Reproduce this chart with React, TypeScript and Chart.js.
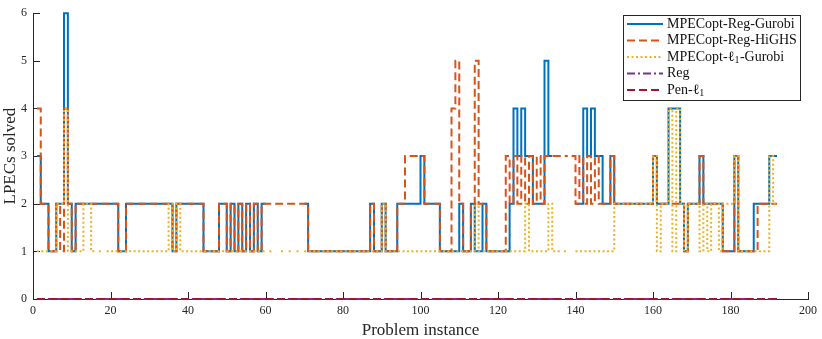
import React, { useEffect, useRef } from 'react';
import { Chart, registerables } from 'chart.js';

Chart.register(...registerables);

const seriesNames = ['MPECopt-Reg-Gurobi', 'MPECopt-Reg-HiGHS', 'MPECopt-ℓ₁-Gurobi', 'Reg', 'Pen-ℓ₁'];
const xTicks = [0, 20, 40, 60, 80, 100, 120, 140, 160, 180, 200];
const yTicks = [0, 1, 2, 3, 4, 5, 6];
const _ = null;

// LPECs solved per problem instance (instances 1..192)
const regGurobi = [
  3, 2, 2, 1, 1, 2, 2, 6, 2, 1,
  2, 2, 2, 2, 2, 2, 2, 2, 2, 2,
  2, 1, 1, 2, 2, 2, 2, 2, 2, 2,
  2, 2, 2, 2, 2, 1, 2, 2, 2, 2,
  2, 2, 2, 1, 1, 1, 1, 2, 2, 1,
  2, 1, 2, 1, 2, 1, 2, 1, 2, _,
  _, _, _, _, _, _, _, _, _, 2,
  1, 1, 1, 1, 1, 1, 1, 1, 1, 1,
  1, 1, 1, 1, 1, 1, 2, 1, 1, 2,
  1, 1, 1, 2, 2, 2, 2, 2, 2, 3,
  2, 2, 2, 2, 1, 1, 1, 1, 1, 2,
  1, 1, 2, 1, 1, 2, 1, 1, 1, 1,
  1, 1, 2, 4, 3, 4, 3, 3, 2, 2,
  2, 5, 3, _, _, _, _, _, _, 2,
  2, 4, 3, 4, 3, 3, 2, 2, 3, 2,
  2, 2, 2, 2, 2, 2, 2, 2, 2, 3,
  2, 2, 2, 4, 4, 4, 2, 1, 2, 2,
  2, 3, 2, 2, 2, 2, 2, 1, 1, 1,
  3, 1, 1, 1, 1, 2, 2, 2, 2, 3,
  3, 3,
];

const regHighs = [
  4, 2, 2, 1, 1, 2, 1, 4, 2, 1,
  2, 2, 2, 2, 2, 2, 2, 2, 2, 2,
  2, 1, 1, 2, 2, 2, 2, 2, 2, 2,
  2, 2, 2, 2, 2, 1, 2, 2, 2, 2,
  2, 2, 2, 1, 1, 1, 1, 2, 2, 1,
  2, 1, 2, 1, 2, 1, 2, 1, 2, 2,
  2, 2, 2, 2, 2, 2, 2, 2, 2, 2,
  1, 1, 1, 1, 1, 1, 1, 1, 1, 1,
  1, 1, 1, 1, 1, 1, 2, 1, 1, 2,
  1, 1, 1, 2, 2, 3, 3, 3, 3, 3,
  2, 2, 2, 2, 1, 1, 1, 4, 5, 2,
  1, 1, 2, 5, 2, 2, 1, 1, 1, 1,
  1, 3, 2, 3, 2, 3, 2, 3, 2, 3,
  2, 3, 3, 3, 3, 3, 3, _, 3, 2,
  3, 2, 3, 2, 3, 2, 2, 2, 3, 2,
  2, 2, 2, 2, 2, 2, 2, 2, 2, 3,
  2, 2, 2, 2, 2, 2, 2, 1, 2, 2,
  2, 3, 2, 2, 2, 2, 2, 1, 1, 1,
  3, 1, 1, 1, 1, 1, 2, 2, 2, 2,
  2, 2,
];

const l1Gurobi = [
  1, 1, 1, 1, 1, 2, 2, 4, 1, 1,
  1, 1, 2, 2, 1, _, 1, _, 1, 1,
  1, 1, 1, 1, 1, 1, 1, 1, 1, 1,
  1, 1, 1, 1, 2, 1, 2, 1, 1, 1,
  1, 1, 1, 1, 1, 1, 1, 1, 1, 1,
  1, 1, 1, 1, 1, 1, 1, 1, 1, _,
  1, _, _, 1, _, 1, _, 1, _, 1,
  1, 1, 1, 1, 1, 1, 1, 1, 1, 1,
  1, 1, 1, 1, 1, 1, 1, 1, 1, 2,
  1, 1, 1, 1, 1, 1, 1, 1, 1, 1,
  1, 1, 1, 1, 1, 1, 1, 1, 1, 1,
  1, 1, 1, 2, 1, 1, 1, 1, 1, 1,
  1, 1, 1, 1, 1, 1, 2, 1, 1, 1,
  1, 1, 2, 1, 1, _, 1, _, _, 1,
  1, 1, 1, 1, 1, 1, 1, 1, 1, 2,
  2, 2, 2, 2, 2, 2, 2, 2, 2, 3,
  1, 2, 2, 4, 1, 4, 2, 1, 2, 2,
  2, 1, 2, 1, 2, 2, 1, 2, 2, 2,
  3, 1, 1, 1, 1, 1, 1, 1, 1, 3,
  2, 2,
];

const regOnly = [
  0, 0, 0, 0, 0, 0, 0, 0, 0, 0, 0, 0, 0, 0, 0, 0, 0, 0, 0, 0,
  0, 0, 0, 0, 0, 0, 0, 0, 0, 0, 0, 0, 0, 0, 0, 0, 0, 0, 0, 0,
  0, 0, 0, 0, 0, 0, 0, 0, 0, 0, 0, 0, 0, 0, 0, 0, 0, 0, 0, 0,
  0, 0, 0, 0, 0, 0, 0, 0, 0, 0, 0, 0, 0, 0, 0, 0, 0, 0, 0, 0,
  0, 0, 0, 0, 0, 0, 0, 0, 0, 0, 0, 0, 0, 0, 0, 0, 0, 0, 0, 0,
  0, 0, 0, 0, 0, 0, 0, 0, 0, 0, 0, 0, 0, 0, 0, 0, 0, 0, 0, 0,
  0, 0, 0, 0, 0, 0, 0, 0, 0, 0, 0, 0, 0, 0, 0, 0, 0, 0, 0, 0,
  0, 0, 0, 0, 0, 0, 0, 0, 0, 0, 0, 0, 0, 0, 0, 0, 0, 0, 0, 0,
  0, 0, 0, 0, 0, 0, 0, 0, 0, 0, 0, 0, 0, 0, 0, 0, 0, 0, 0, 0,
  0, 0, 0, 0, 0, 0, 0, 0, 0, 0, 0, 0,
];

const penL1 = [
  0, 0, 0, 0, 0, 0, 0, 0, 0, 0, 0, 0, 0, 0, 0, 0, 0, 0, 0, 0,
  0, 0, 0, 0, 0, 0, 0, 0, 0, 0, 0, 0, 0, 0, 0, 0, 0, 0, 0, 0,
  0, 0, 0, 0, 0, 0, 0, 0, 0, 0, 0, 0, 0, 0, 0, 0, 0, 0, 0, 0,
  0, 0, 0, 0, 0, 0, 0, 0, 0, 0, 0, 0, 0, 0, 0, 0, 0, 0, 0, 0,
  0, 0, 0, 0, 0, 0, 0, 0, 0, 0, 0, 0, 0, 0, 0, 0, 0, 0, 0, 0,
  0, 0, 0, 0, 0, 0, 0, 0, 0, 0, 0, 0, 0, 0, 0, 0, 0, 0, 0, 0,
  0, 0, 0, 0, 0, 0, 0, 0, 0, 0, 0, 0, 0, 0, 0, 0, 0, 0, 0, 0,
  0, 0, 0, 0, 0, 0, 0, 0, 0, 0, 0, 0, 0, 0, 0, 0, 0, 0, 0, 0,
  0, 0, 0, 0, 0, 0, 0, 0, 0, 0, 0, 0, 0, 0, 0, 0, 0, 0, 0, 0,
  0, 0, 0, 0, 0, 0, 0, 0, 0, 0, 0, 0,
];

const FONT = "'Liberation Serif', 'Times New Roman', serif";
const AXIS = '#262626';

// MATLAB-style stairs: value i holds from x=i to x=i+1, NaN breaks the line
function stairs(vals: (number | null)[]) {
  const pts: { x: number; y: number | null }[] = [];
  vals.forEach((v, k) => {
    const x = k + 1;
    if (v === null) {
      pts.push({ x, y: null });
      return;
    }
    pts.push({ x, y: v });
    if (k < vals.length - 1) pts.push({ x: x + 1, y: v });
  });
  return pts;
}

const inwardTicks = {
  id: 'inwardTicks',
  beforeDatasetsDraw(chart: any) {
    const { ctx, chartArea, scales } = chart;
    const x = scales.x;
    const y = scales.y;
    ctx.save();
    ctx.strokeStyle = AXIS;
    ctx.lineWidth = 1;
    ctx.beginPath();
    xTicks.forEach((v) => {
      const px = Math.round(x.getPixelForValue(v)) + 0.5;
      ctx.moveTo(px, chartArea.bottom);
      ctx.lineTo(px, chartArea.bottom - 7);
    });
    yTicks.forEach((v) => {
      const py = Math.round(y.getPixelForValue(v)) + 0.5;
      ctx.moveTo(chartArea.left, py);
      ctx.lineTo(chartArea.left + 7, py);
    });
    ctx.stroke();
    ctx.restore();
  },
};

function drawLabel(ctx: CanvasRenderingContext2D, text: string, x: number, y: number) {
  const parts = text.split('ℓ₁');
  let cx = x;
  parts.forEach((p, i) => {
    ctx.font = `14px ${FONT}`;
    ctx.fillText(p, cx, y);
    cx += ctx.measureText(p).width;
    if (i < parts.length - 1) {
      ctx.fillText('ℓ', cx, y);
      cx += ctx.measureText('ℓ').width;
      ctx.font = `10px ${FONT}`;
      ctx.fillText('1', cx, y + 3.5);
      cx += ctx.measureText('1').width + 0.5;
    }
  });
}

const boxLegend = {
  id: 'boxLegend',
  afterDraw(chart: any) {
    const { ctx } = chart;
    const bx = 623.5, by = 15.5, bw = 177, bh = 85;
    ctx.save();
    ctx.fillStyle = '#ffffff';
    ctx.fillRect(bx, by, bw, bh);
    ctx.strokeStyle = AXIS;
    ctx.lineWidth = 1;
    ctx.setLineDash([]);
    ctx.strokeRect(bx, by, bw, bh);
    chart.data.datasets.forEach((ds: any, i: number) => {
      const yy = 24 + i * 16.5;
      ctx.strokeStyle = ds.borderColor;
      ctx.lineWidth = ds.borderWidth;
      ctx.setLineDash(ds.borderDash || []);
      ctx.beginPath();
      ctx.moveTo(627, yy);
      ctx.lineTo(663, yy);
      ctx.stroke();
      ctx.setLineDash([]);
      ctx.fillStyle = '#111111';
      ctx.textBaseline = 'middle';
      ctx.textAlign = 'left';
      drawLabel(ctx, ds.label, 667, yy);
    });
    ctx.restore();
  },
};

export default function App() {
  const ref = useRef<HTMLCanvasElement>(null);

  useEffect(() => {
    document.body.style.margin = '0';
    if (!ref.current) return;
    const common = {
      pointRadius: 0,
      borderWidth: 2,
      fill: false,
      tension: 0,
      clip: false as any,
      borderJoinStyle: 'miter' as const,
      borderCapStyle: 'butt' as const,
      spanGaps: false,
    };
    const chart = new Chart(ref.current, {
      type: 'line',
      data: {
        datasets: [
          { ...common, label: seriesNames[0], data: stairs(regGurobi), borderColor: '#0072BD', order: 5 },
          { ...common, label: seriesNames[1], data: stairs(regHighs), borderColor: '#D95319', borderDash: [8, 4], order: 4 },
          { ...common, label: seriesNames[2], data: stairs(l1Gurobi), borderColor: '#EDB120', borderDash: [2, 2.5], order: 3 },
          { ...common, label: seriesNames[3], data: stairs(regOnly), borderColor: '#7E2F8E', borderDash: [8, 3, 2, 3], order: 2 },
          { ...common, label: seriesNames[4], data: stairs(penL1), borderColor: '#A2142F', borderDash: [8, 4], order: 1 },
        ] as any,
      },
      options: {
        animation: false,
        responsive: false,
        events: [],
        layout: { padding: { top: 6, right: 13, left: 0, bottom: 0 } },
        plugins: { legend: { display: false }, tooltip: { enabled: false } },
        scales: {
          x: {
            type: 'linear',
            min: 0,
            max: 200,
            afterFit: (s: any) => { s.height = 40; },
            afterBuildTicks: (s: any) => { s.ticks = xTicks.map((v) => ({ value: v })); },
            grid: { display: false, drawTicks: false },
            border: { display: true, color: AXIS, width: 1 },
            ticks: { padding: 5, autoSkip: false, maxRotation: 0, color: AXIS, font: { family: FONT, size: 12 } },
            title: { display: true, text: 'Problem instance', color: AXIS, padding: 0, font: { family: FONT, size: 17, lineHeight: 1 } },
          },
          y: {
            type: 'linear',
            min: 0,
            max: 6,
            afterFit: (s: any) => { s.width = 33; },
            afterBuildTicks: (s: any) => { s.ticks = yTicks.map((v) => ({ value: v })); },
            grid: { display: false, drawTicks: false },
            border: { display: true, color: AXIS, width: 1 },
            ticks: { padding: 6, color: AXIS, font: { family: FONT, size: 12 } },
            title: { display: true, text: 'LPECs solved', color: AXIS, padding: { top: 2, bottom: 0 }, font: { family: FONT, size: 17, lineHeight: 1 } },
          },
        },
      } as any,
      plugins: [inwardTicks, boxLegend],
    });
    return () => chart.destroy();
  }, []);

  return (
    <div style={{ width: 822, height: 339 }}>
      <canvas ref={ref} width={822} height={339} style={{ display: 'block' }} />
    </div>
  );
}
